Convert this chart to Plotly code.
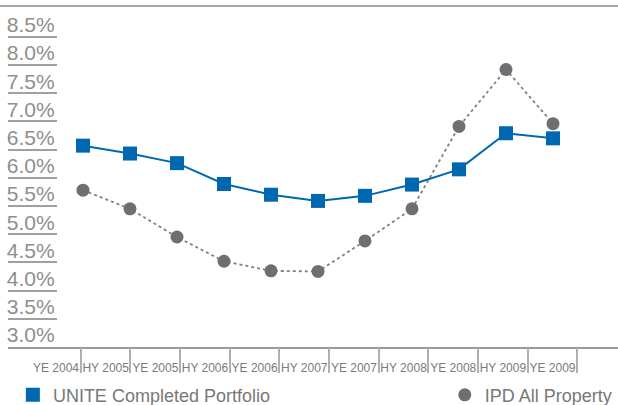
import plotly.graph_objects as go
import math

categories = ["YE 2004", "HY 2005", "YE 2005", "HY 2006", "YE 2006", "HY 2007",
              "YE 2007", "HY 2008", "YE 2008", "HY 2009", "YE 2009"]
unite = [6.57, 6.43, 6.26, 5.89, 5.70, 5.59, 5.68, 5.88, 6.15, 6.79, 6.70]
ipd = [5.78, 5.45, 4.95, 4.52, 4.35, 4.34, 4.88, 5.45, 6.91, 7.92, 6.96]
y_ticks = [3.0, 3.5, 4.0, 4.5, 5.0, 5.5, 6.0, 6.5, 7.0, 7.5, 8.0, 8.5]
y_labels = [f"{v:.1f}%" for v in y_ticks]

BLUE = "#0067b1"
GRAY = "#6e6e73"
TXT = "#8e8e8e"
FONT = "Liberation Sans, Arial, sans-serif"

fig = go.Figure()

fig.add_trace(go.Scatter(
    x=categories, y=ipd, mode="lines+markers", showlegend=False,
    line=dict(color="#808080", width=1.8, dash="dot"),
    marker=dict(symbol="circle", size=13, color=GRAY),
    xaxis="x", yaxis="y"))
fig.add_trace(go.Scatter(
    x=categories, y=unite, mode="lines+markers", showlegend=False,
    line=dict(color=BLUE, width=2),
    marker=dict(symbol="square", size=14, color=BLUE),
    xaxis="x", yaxis="y"))

# legend-only entries (marker only)
fig.add_trace(go.Scatter(
    x=[None], y=[None], mode="markers", name="UNITE Completed Portfolio",
    marker=dict(symbol="square", size=14, color=BLUE), legend="legend"))
fig.add_trace(go.Scatter(
    x=[None], y=[None], mode="markers", name="IPD All Property",
    marker=dict(symbol="circle", size=13, color=GRAY), legend="legend2"))

# dummy traces to register the label / separator axes
n = len(categories)
fig.add_trace(go.Scatter(x=list(range(n)), y=[math.nan] * n, mode="markers",
                         marker=dict(opacity=0), showlegend=False,
                         hoverinfo="skip", xaxis="x2", yaxis="y"))
fig.add_trace(go.Scatter(x=[i + 0.5 for i in range(n)], y=[math.nan] * n, mode="markers",
                         marker=dict(opacity=0), showlegend=False,
                         hoverinfo="skip", xaxis="x3", yaxis="y"))

lab_range = [-0.967, 11.319]

fig.update_layout(
    width=618, height=405,
    margin=dict(l=8, r=0, t=6, b=58, autoexpand=False),
    paper_bgcolor="white", plot_bgcolor="white",
    font=dict(family=FONT, color=TXT),
    xaxis=dict(type="category", categoryorder="array", categoryarray=categories,
               range=[-1.596, 11.383], showticklabels=False, ticks="",
               showgrid=False, zeroline=False, showline=False, automargin=False),
    xaxis2=dict(overlaying="x", anchor="y", range=lab_range,
                tickmode="array", tickvals=list(range(n)), ticktext=categories,
                ticks="", showgrid=False, zeroline=False,
                showline=True, linecolor="#9a9a9a", linewidth=1.5,
                tickfont=dict(size=12, color="#7a7a7a", family=FONT),
                ticklabelstandoff=9, automargin=False),
    xaxis3=dict(overlaying="x", anchor="y", range=lab_range,
                tickmode="array", tickvals=[i + 0.5 for i in range(n)],
                showticklabels=False, ticks="outside", ticklen=25,
                tickwidth=1.5, tickcolor="#b0b0b0",
                showgrid=False, zeroline=False, showline=False, automargin=False),
    yaxis=dict(range=[3.0, 9.046], tickmode="array", tickvals=y_ticks,
               ticktext=y_labels, ticks="inside", ticklen=49, tickwidth=1.5,
               tickcolor="#a0a0a0", ticklabelposition="inside",
               ticklabelshift=-12, ticklabelstandoff=-49,
               tickfont=dict(size=21, color=TXT, family=FONT),
               showgrid=False, zeroline=False, showline=False, automargin=False),
    legend=dict(x=0.008, y=-0.141, xanchor="left", yanchor="middle",
                font=dict(size=18, color="#777777", family=FONT),
                bgcolor="rgba(0,0,0,0)"),
    legend2=dict(x=0.716, y=-0.141, xanchor="left", yanchor="middle",
                 font=dict(size=18, color="#777777", family=FONT),
                 bgcolor="rgba(0,0,0,0)"),
    shapes=[dict(type="line", xref="paper", yref="paper",
                 x0=-0.0131, x1=1, y0=1, y1=1,
                 line=dict(color="#8a8a8a", width=1.5))],
)

fig.write_html("out.html")
